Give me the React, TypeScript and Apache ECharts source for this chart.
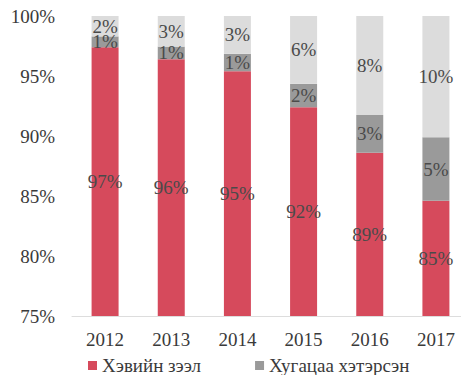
import React, { useEffect, useRef } from "react";
import * as echarts from "echarts";

const categories = ["2012", "2013", "2014", "2015", "2016", "2017"];
const normalLoans = [97.4, 96.4, 95.4, 92.4, 88.6, 84.6];
const overdueLoans = [0.9, 1.05, 1.45, 1.95, 3.15, 5.3];
const otherLoans = [1.7, 2.55, 3.15, 5.65, 8.25, 10.1];
const legendNames = ["Хэвийн зээл", "Хугацаа хэтэрсэн"];
const otherName = "Чанаргүй зээл";

const FONT = "Liberation Serif";
const TEXT = "#3a3a3a";

export default function App() {
  const ref = useRef<HTMLDivElement>(null);
  useEffect(() => {
    if (!ref.current) return;
    const chart = echarts.init(ref.current, undefined, { renderer: "svg" });
    const label = {
      show: true,
      position: "inside",
      color: "#4a4a4a",
      fontFamily: FONT,
      fontSize: 19,
      formatter: (p: any) => Math.round(p.value) + "%",
    };
    chart.setOption({
      animation: false,
      backgroundColor: "#ffffff",
      grid: { left: 72, right: -10, top: 16, bottom: 67 },
      legend: {
        data: legendNames,
        left: 88,
        top: 356,
        padding: 0,
        icon: "rect",
        itemWidth: 9,
        itemHeight: 9,
        itemGap: 54,
        textStyle: { fontFamily: FONT, fontSize: 19, color: TEXT },
      },
      xAxis: {
        type: "category",
        data: categories,
        axisLine: { show: true, lineStyle: { color: "#dddddd" } },
        axisTick: { show: false },
        axisLabel: { margin: 14, fontFamily: FONT, fontSize: 19, color: TEXT },
      },
      yAxis: {
        type: "value",
        min: 75,
        max: 100,
        interval: 5,
        splitLine: { show: false },
        axisLine: { show: false },
        axisTick: { show: false },
        axisLabel: {
          margin: 17,
          formatter: "{value}%",
          fontFamily: FONT,
          fontSize: 19,
          color: TEXT,
        },
      },
      series: [
        {
          name: legendNames[0],
          type: "bar",
          stack: "total",
          barWidth: 27,
          data: normalLoans,
          itemStyle: { color: "#d64a5c" },
          label,
        },
        {
          name: legendNames[1],
          type: "bar",
          stack: "total",
          barWidth: 27,
          data: overdueLoans,
          itemStyle: { color: "#9a9a9a" },
          label,
        },
        {
          name: otherName,
          type: "bar",
          stack: "total",
          barWidth: 27,
          data: otherLoans,
          itemStyle: { color: "#dcdcdc" },
          label,
        },
      ],
    });
    return () => chart.dispose();
  }, []);
  return <div ref={ref} style={{ width: 469, height: 383, margin: -8 }} />;
}
